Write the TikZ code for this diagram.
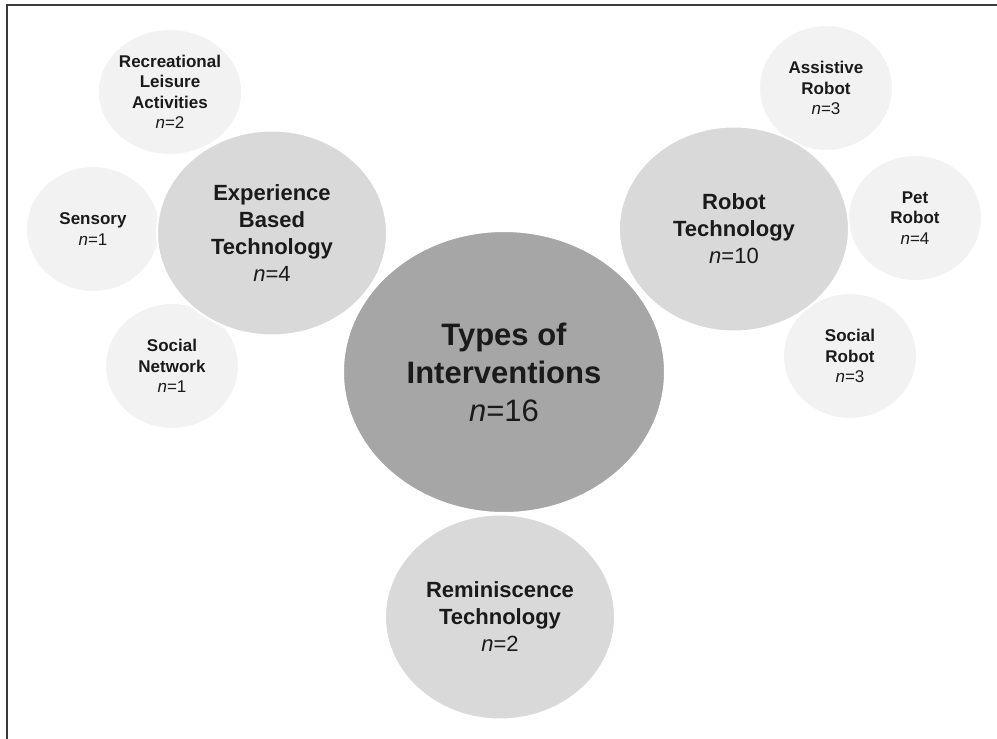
\documentclass[tikz,border=0pt]{standalone}
\usepackage{fontspec}
\setmainfont{Liberation Sans}
\usepackage{tikz}
\usetikzlibrary{
  positioning,
  shapes.geometric
}
\usepackage{xcolor}
\definecolor{darkfill}{HTML}{A6A6A6}
\definecolor{midfill}{HTML}{D9D9D9}
\definecolor{lightfill}{HTML}{F2F2F2}
\definecolor{framegray}{HTML}{3A3A3A}
\definecolor{textgray}{HTML}{1A1A1A}
\newcommand{\ncount}[1]{\mdseries\textit{n}=#1}

\begin{document}
\begin{tikzpicture}[x=1pt, y=-1pt,
bignode/.style={ellipse, fill=darkfill, draw=white, line width=2pt, inner sep=0pt,
  minimum width=322pt, minimum height=282pt, align=center, text=textgray,
  font=\fontsize{31}{38}\selectfont\bfseries},
midnode/.style={ellipse, fill=midfill, draw=white, line width=2pt, inner sep=0pt,
  minimum width=230pt, minimum height=205pt, align=center, text=textgray,
  font=\fontsize{22}{27}\selectfont\bfseries},
smallnode/.style={ellipse, fill=lightfill, draw=white, line width=2pt, inner sep=0pt,
  minimum width=134pt, minimum height=126pt, align=center, text=textgray,
  font=\fontsize{17}{20.5}\selectfont\bfseries},
]
\useasboundingbox (0,0) rectangle (997,739);

%Frame
\draw[framegray, line width=2pt] (997,5) -- (6.5,5) -- (6.5,739);

%Small nodes
\node[smallnode] (recreational) at (170,92)  {Recreational\\Leisure\\Activities\\\ncount{2}};
\node[smallnode] (sensory)      at (93,229)  {Sensory\\\ncount{1}};
\node[smallnode] (socialnet)    at (172,366) {Social\\Network\\\ncount{1}};
\node[smallnode] (assistive)    at (826,88)  {Assistive\\Robot\\\ncount{3}};
\node[smallnode] (pet)          at (915,218) {Pet\\Robot\\\ncount{4}};
\node[smallnode] (socialrobot)  at (850,356) {Social\\Robot\\\ncount{3}};

%Middle nodes
\node[midnode] (experience)   at (272,233) {Experience\\Based\\Technology\\\ncount{4}};
\node[midnode] (robot)        at (734,229) {Robot\\Technology\\\ncount{10}};
\node[midnode] (reminiscence) at (500,617) {Reminiscence\\Technology\\\ncount{2}};

%Centre
\node[bignode] (types) at (504,372) {Types of\\Interventions\\\ncount{16}};
\end{tikzpicture}
\end{document}
